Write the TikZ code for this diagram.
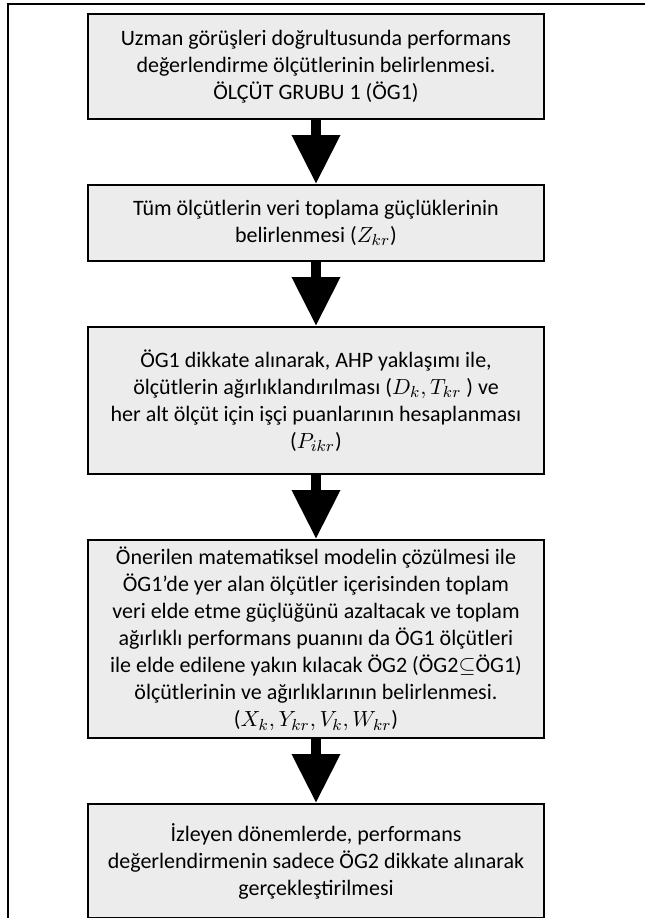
\documentclass[tikz,border=0pt]{standalone}
\usepackage{fontspec}
\setmainfont{Carlito}
\usetikzlibrary{positioning,arrows.meta}

\definecolor{kutugri}{RGB}{236,236,236}

\tikzset{
  adimkutu/.style={draw=black, line width=1pt, fill=kutugri, align=center,
    minimum width=228pt, inner sep=2pt,
    font=\fontsize{11pt}{13.5pt}\selectfont},
  okbuyuk/.style={line width=5pt, -{Triangle[width=23pt,length=24.5pt]}}
}

\begin{document}
\begin{tikzpicture}[x=0.5pt,y=-0.5pt]
  \useasboundingbox (0,0) rectangle (645,918);
  % cerceve
  \draw[line width=1.3pt] (8,918) -- (8,4) -- (645,4);

  % kutular
  \node[adimkutu, minimum height=52.5pt, anchor=north] (uzman) at (316,13)
    {Uzman görüşleri doğrultusunda performans\\
     değerlendirme ölçütlerinin belirlenmesi.\\
     ÖLÇÜT GRUBU 1 (ÖG1)};
  \node[adimkutu, minimum height=38pt, below=32pt of uzman] (zorluk)
    {Tüm ölçütlerin veri toplama güçlüklerinin\\
     belirlenmesi ($Z_{kr}$)};
  \node[adimkutu, minimum height=73.5pt, below=32pt of zorluk] (ahp)
    {ÖG1 dikkate alınarak, AHP yaklaşımı ile,\\
     ölçütlerin ağırlıklandırılması ($D_k, T_{kr}$ ) ve\\
     her alt ölçüt için işçi puanlarının hesaplanması\\
     ($P_{ikr}$)};
  \node[adimkutu, minimum height=99pt, below=32pt of ahp] (model)
    {Önerilen matematiksel modelin çözülmesi ile\\
     ÖG1’de yer alan ölçütler içerisinden toplam\\
     veri elde etme güçlüğünü azaltacak ve toplam\\
     ağırlıklı performans puanını da ÖG1 ölçütleri\\
     ile elde edilene yakın kılacak ÖG2 (ÖG2$\subseteq$ÖG1)\\
     ölçütlerinin ve ağırlıklarının belirlenmesi.\\
     ($X_k, Y_{kr}, V_k, W_{kr}$)};
  \node[adimkutu, minimum height=57pt, below=32pt of model] (izleme)
    {İzleyen dönemlerde, performans\\
     değerlendirmenin sadece ÖG2 dikkate alınarak\\
     gerçekleştirilmesi};

  % oklar
  \draw[okbuyuk] (uzman) -- (zorluk);
  \draw[okbuyuk] (zorluk) -- (ahp);
  \draw[okbuyuk] (ahp) -- (model);
  \draw[okbuyuk] (model) -- (izleme);
\end{tikzpicture}
\end{document}
